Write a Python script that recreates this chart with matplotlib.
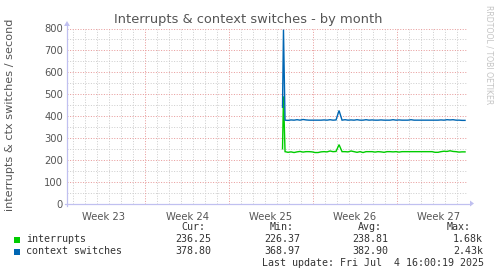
import matplotlib
matplotlib.use("Agg")
import matplotlib.pyplot as plt
import numpy as np

W, H = 497, 276

# time axis in days from the left edge of the graph (12 px per day)
start_days = [17.96, 18.04]
start_interrupts = [250, 490]
start_ctx = [440, 795]

step_start = 18.17
step = 0.25
interrupts = [237, 234, 236, 233, 236, 238, 235, 237, 237, 236,
              233, 233, 236, 237, 236, 240, 237, 238, 269, 237,
              237, 236, 240, 237, 234, 237, 233, 237, 237, 237,
              235, 237, 236, 234, 237, 237, 236, 237, 235, 237,
              237, 237, 237, 237, 237, 237, 237, 237, 237, 237,
              234, 234, 237, 239, 238, 241, 238, 237, 235, 236, 236]
ctx_switches = [381, 380, 382, 381, 383, 381, 384, 382, 381, 381,
                381, 381, 381, 382, 381, 383, 381, 382, 425, 381,
                383, 381, 382, 381, 383, 381, 381, 383, 381, 382,
                381, 381, 382, 381, 381, 381, 383, 381, 382, 381,
                381, 381, 383, 381, 381, 381, 381, 381, 381, 381,
                381, 381, 382, 381, 383, 382, 383, 381, 381, 380, 380]

week_labels = ["Week 23", "Week 24", "Week 25", "Week 26", "Week 27"]
week_centers = [3.0, 10.0, 17.0, 24.0, 31.0]
week_bounds = [6.5, 13.5, 20.5, 27.5]

legend_names = ["interrupts", "context switches"]
legend_colors = ["#00CC00", "#0066B3"]
cur = ["236.25", "378.80"]
mins = ["226.37", "368.97"]
avgs = ["238.81", "382.90"]
maxs = ["1.68k", "2.43k"]
last_update = "Last update: Fri Jul  4 16:00:19 2025"

xs = start_days + [step_start + step * i for i in range(len(interrupts))]
y_int = start_interrupts + interrupts
y_ctx = start_ctx + ctx_switches

fig = plt.figure(figsize=(W / 100, H / 100), dpi=100)
fig.patch.set_facecolor("white")

left, right, top, bottom = 67, 467, 28.5, 203.5
ax = fig.add_axes([left / W, 1 - bottom / H, (right - left) / W, (bottom - top) / H])
ax.set_xlim(0, 400 / 12)
ax.set_ylim(0, 800)
for s in ax.spines.values():
    s.set_visible(False)

# grid (dotted)
minor_c = "#CFCFCF"
major_c = "#E89C9C"
dot = (0, (1, 1.6))
for v in range(50, 800, 100):
    ax.axhline(v, color=minor_c, lw=0.72, ls=dot, zorder=1)
for d in np.arange(0.5, 33.4, 1.0):
    if d not in week_bounds:
        ax.axvline(d, color=minor_c, lw=0.72, ls=dot, zorder=1)
for v in range(100, 801, 100):
    ax.axhline(v, color=major_c, lw=0.72, ls=dot, zorder=2)
for d in week_bounds:
    ax.axvline(d, color=major_c, lw=0.72, ls=dot, zorder=2)

ax.plot(xs, y_int, color=legend_colors[0], lw=1.0, zorder=4, solid_joinstyle="miter")
ax.plot(xs, y_ctx, color=legend_colors[1], lw=1.0, zorder=5, solid_joinstyle="miter")

ax.set_yticks(range(0, 801, 100))
ax.set_yticklabels([str(v) for v in range(0, 801, 100)])
ax.set_xticks(week_centers)
ax.set_xticklabels(week_labels)
ax.tick_params(axis="both", length=0, labelsize=7.2, colors="#555555", pad=3)
ax.tick_params(axis="x", pad=6)

# axes with arrows
axis_c = "#C0C0F0"
fig.add_artist(plt.Line2D([65 / W, 470 / W], [1 - 203.5 / H] * 2, color=axis_c, lw=0.9))
fig.add_artist(plt.Line2D([67 / W] * 2, [1 - 206 / H, 1 - 26 / H], color=axis_c, lw=0.9))
fig.add_artist(plt.Polygon([[470 / W, 1 - 200.5 / H], [474 / W, 1 - 203.5 / H], [470 / W, 1 - 206.5 / H]],
                           closed=True, color=axis_c, lw=0))
fig.add_artist(plt.Polygon([[64 / W, 1 - 26 / H], [67 / W, 1 - 21 / H], [70 / W, 1 - 26 / H]],
                           closed=True, color=axis_c, lw=0))

def px(x, y):
    return x / W, 1 - y / H

fig.text(*px(248, 19), "Interrupts & context switches - by month", ha="center", va="center",
         fontsize=9.4, color="#555555")
fig.text(*px(10, 115), "interrupts & ctx switches / second", ha="center", va="center",
         rotation=90, fontsize=8.1, color="#555555")
fig.text(*px(489, 55), "RRDTOOL / TOBI OETIKER", ha="center", va="center",
         rotation=270, fontsize=5.6, color="#C4C4C4")

mono = dict(family="DejaVu Sans Mono", fontsize=7.2, color="#333333", va="center")
fig.text(*px(181, 227), "Cur:", **mono)
fig.text(*px(270, 227), "Min:", **mono)
fig.text(*px(358, 227), "Avg:", **mono)
fig.text(*px(447, 227), "Max:", **mono)
for i, yy in enumerate([239.5, 251.5]):
    fig.add_artist(plt.Rectangle(px(14, yy + 3), 6 / W, 6 / H, color=legend_colors[i], lw=0))
    fig.text(*px(26, yy), legend_names[i], **mono)
    fig.text(*px(175, yy), cur[i], **mono)
    fig.text(*px(264, yy), mins[i], **mono)
    fig.text(*px(352, yy), avgs[i], **mono)
    fig.text(*px(453, yy), maxs[i], **mono)
fig.text(*px(262, 263), last_update, **mono)

fig.savefig("out.png", dpi=100, facecolor="white")
